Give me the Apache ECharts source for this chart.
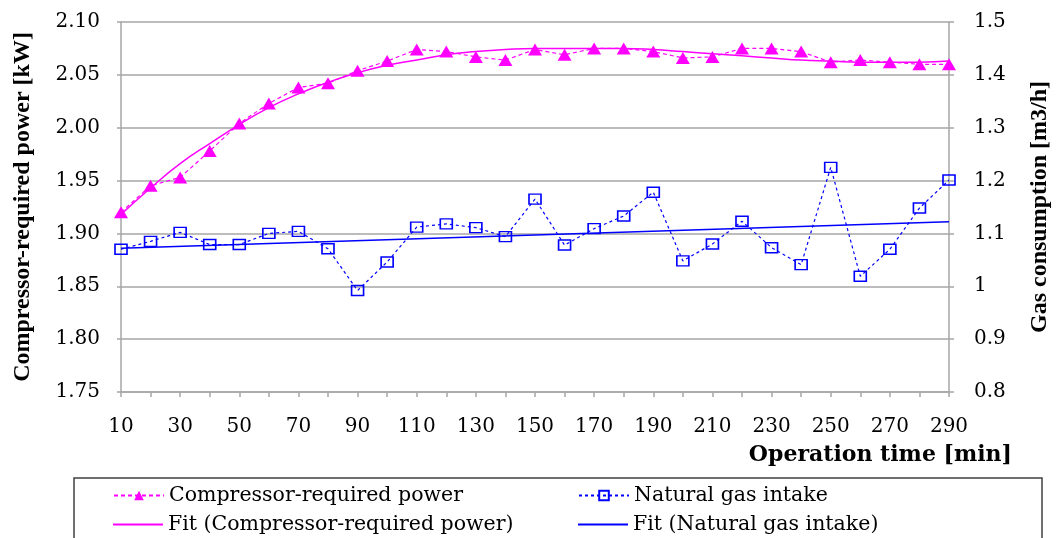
<!DOCTYPE html>
<html>
<head>
<meta charset="utf-8">
<script src="https://cdn.jsdelivr.net/npm/echarts@6/dist/echarts.min.js"></script>
<style>
html,body{margin:0;padding:0;background:#fff;}
#chart{width:1056px;height:538px;}
</style>
</head>
<body>
<div id="chart"></div>
<script>
const categories = ['10','20','30','40','50','60','70','80','90','100','110','120','130','140','150','160','170','180','190','200','210','220','230','240','250','260','270','280','290'];
const powerValues = [1.920,1.945,1.953,1.978,2.004,2.023,2.038,2.042,2.054,2.063,2.074,2.072,2.067,2.064,2.074,2.069,2.075,2.075,2.072,2.066,2.067,2.075,2.075,2.072,2.062,2.064,2.062,2.060,2.060];
const gasValues = [1.070,1.085,1.102,1.079,1.079,1.100,1.104,1.071,0.992,1.046,1.112,1.118,1.111,1.094,1.165,1.078,1.109,1.133,1.178,1.048,1.080,1.123,1.073,1.041,1.225,1.019,1.070,1.148,1.201];
const powerFit = [1.918,1.943,1.966,1.985,2.003,2.019,2.032,2.043,2.052,2.059,2.064,2.069,2.072,2.074,2.075,2.075,2.075,2.075,2.074,2.072,2.070,2.068,2.066,2.064,2.063,2.062,2.062,2.062,2.063];
const gasFitEnds = [['10',1.072],['290',1.122]];
const leftTicks = {min:1.75,max:2.10,interval:0.05};
const rightTicks = {min:0.8,max:1.5,interval:0.1};
const seriesNames = ['Compressor-required power','Natural gas intake','Fit (Compressor-required power)','Fit (Natural gas intake)'];
const axisTitles = {x:'Operation time [min]',left:'Compressor-required power [kW]',right:'Gas consumption [m3/h]'};

const FONT = 'DejaVu Serif';
const MAG = '#FF00FF';
const BLUE = '#0000FF';
const GRID = '#A6A6A6';
const legendText = {fontFamily:FONT,fontSize:20.5,color:'#000',lineHeight:20};

function legendAt(name,left,top,extra){
  return Object.assign({left:left,top:top,orient:'horizontal',itemWidth:50,itemHeight:12,itemGap:0,
    textStyle:legendText,data:[name]},extra||{});
}

const chart = echarts.init(document.getElementById('chart'));
chart.setOption({
  animation:false,
  textStyle:{fontFamily:FONT,color:'#000'},
  grid:{left:121,right:107,top:22,bottom:146,containLabel:false},
  xAxis:{
    type:'category',data:categories,boundaryGap:false,
    axisLine:{lineStyle:{color:GRID,width:1.5}},
    axisTick:{show:true,interval:0,length:5,lineStyle:{color:GRID,width:1.5}},
    axisLabel:{interval:1,fontFamily:FONT,fontSize:20,color:'#000',margin:25},
    splitLine:{show:false}
  },
  yAxis:[{
    type:'value',position:'left',min:leftTicks.min,max:leftTicks.max,interval:leftTicks.interval,
    axisLine:{show:true,lineStyle:{color:GRID,width:1.5}},
    axisTick:{show:true,length:4,lineStyle:{color:GRID,width:1.5}},
    axisLabel:{fontFamily:FONT,fontSize:20,color:'#000',margin:21,formatter:v=>v.toFixed(2)},
    splitLine:{show:true,lineStyle:{color:GRID,width:1.5}}
  },{
    type:'value',position:'right',min:rightTicks.min,max:rightTicks.max,interval:rightTicks.interval,
    axisLine:{show:true,lineStyle:{color:GRID,width:1.5}},
    axisTick:{show:true,length:5,lineStyle:{color:GRID,width:1.5}},
    axisLabel:{fontFamily:FONT,fontSize:20,color:'#000',margin:25,formatter:v=>String(Math.round(v*10)/10)},
    splitLine:{show:false}
  }],
  legend:[
    legendAt(seriesNames[0],108,480),
    legendAt(seriesNames[1],573,480),
    legendAt(seriesNames[2],108,509,{icon:'rect',itemHeight:2}),
    legendAt(seriesNames[3],573,509,{icon:'rect',itemHeight:2})
  ],
  graphic:[{
    type:'rect',shape:{x:74,y:478,width:968,height:80},
    style:{fill:'none',stroke:'#404040',lineWidth:1.5},silent:true
  },{
    type:'text',right:44,top:444,
    style:{text:axisTitles.x,font:'bold 22px "DejaVu Serif"',fill:'#000'}
  },{
    type:'text',x:23,y:207,rotation:Math.PI/2,
    style:{text:axisTitles.left,font:'bold 24px "Liberation Serif"',fill:'#000',align:'center',verticalAlign:'middle'}
  },{
    type:'text',x:1040,y:207,rotation:Math.PI/2,
    style:{text:axisTitles.right,font:'bold 24px "Liberation Serif"',fill:'#000',align:'center',verticalAlign:'middle'}
  }],
  series:[{
    name:seriesNames[0],type:'line',yAxisIndex:0,data:powerValues,
    symbol:'triangle',symbolSize:[14,12],
    itemStyle:{color:MAG},
    lineStyle:{color:MAG,width:1.2,type:[4,3]},z:3
  },{
    name:seriesNames[1],type:'line',yAxisIndex:1,data:gasValues,
    symbol:'rect',symbolSize:[12,10],
    itemStyle:{color:'transparent',borderColor:BLUE,borderWidth:1.5},
    lineStyle:{color:BLUE,width:1.2,type:[3,3]},z:3
  },{
    name:seriesNames[2],type:'line',yAxisIndex:0,data:powerFit,
    smooth:true,showSymbol:false,symbol:'none',
    itemStyle:{color:MAG},lineStyle:{color:MAG,width:1.5},z:2
  },{
    name:seriesNames[3],type:'line',yAxisIndex:1,data:gasFitEnds,
    showSymbol:false,symbol:'none',
    itemStyle:{color:BLUE},lineStyle:{color:BLUE,width:1.5},z:2
  }]
});
</script>
</body>
</html>
